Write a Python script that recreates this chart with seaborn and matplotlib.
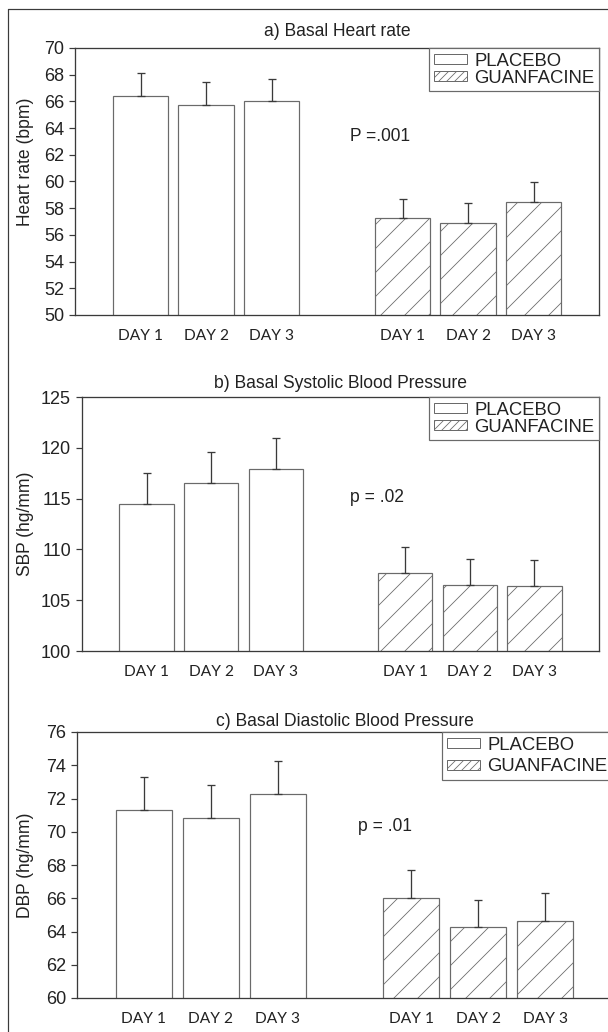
import pandas as pd
import matplotlib.pyplot as plt
import seaborn as sns
from matplotlib.patches import Patch
from matplotlib.lines import Line2D

# values (mean and upper error)
days = ['DAY 1', 'DAY 2', 'DAY 3']
groups = ['PLACEBO', 'GUANFACINE']

hr_placebo = [66.4, 65.7, 66.0]
hr_placebo_err = [1.7, 1.75, 1.7]
hr_guanfacine = [57.25, 56.9, 58.5]
hr_guanfacine_err = [1.45, 1.46, 1.47]

sbp_placebo = [114.5, 116.5, 117.9]
sbp_placebo_err = [3.05, 3.05, 3.05]
sbp_guanfacine = [107.65, 106.5, 106.4]
sbp_guanfacine_err = [2.6, 2.6, 2.6]

dbp_placebo = [71.3, 70.8, 72.25]
dbp_placebo_err = [1.97, 1.99, 1.99]
dbp_guanfacine = [66.0, 64.3, 64.65]
dbp_guanfacine_err = [1.7, 1.62, 1.69]

sns.set_style('white')
plt.rcParams['font.family'] = ['Liberation Sans', 'DejaVu Sans']
plt.rcParams['hatch.linewidth'] = 0.8

DARK = '#3a3a3a'
EDGE = '#6a6a6a'
TXT = '#222222'
FS = 17.5

W, H = 608, 1032
fig = plt.figure(figsize=(W / 72, H / 72), dpi=72)


def panel(rect, placebo, placebo_err, guan, guan_err, title, title_pad,
          ylabel, label_xy, ylim, yticks, ptext, pxy, legend_spacing):
    ax = fig.add_axes([rect[0] / W, 1 - rect[3] / H, (rect[2] - rect[0]) / W, (rect[3] - rect[1]) / H])

    df = pd.DataFrame({
        'slot': [f'{g} {d}' for g in groups for d in days],
        'value': placebo + guan,
        'group': [g for g in groups for _ in days],
    })
    order = [f'PLACEBO {d}' for d in days] + [' '] + [f'GUANFACINE {d}' for d in days]
    sns.barplot(data=df, x='slot', y='value', order=order, color='white',
                width=0.84, edgecolor=EDGE, linewidth=1.2, ax=ax)

    errs = dict(zip(df['slot'], placebo_err + guan_err))
    xs, tops, ups = [], [], []
    for p in ax.patches:
        xc = p.get_x() + p.get_width() / 2
        p.set_facecolor('white')
        p.set_edgecolor(EDGE)
        if xc > 3:
            p.set_hatch('/')
        xs.append(xc)
        tops.append(p.get_height())
        ups.append(errs[order[int(round(xc))]])
    ax.errorbar(xs, tops, yerr=[[0] * len(ups), ups], fmt='none', ecolor=DARK,
                elinewidth=1.3, capsize=4, capthick=1.3, zorder=1)

    ax.set_xlim(-1, 7)
    ax.set_ylim(*ylim)
    ax.set_yticks(yticks)
    ax.set_xticks(range(7))
    ax.set_xticklabels(days + [''] + days, fontfamily='Lato', fontsize=15.5, color=TXT)
    ax.tick_params(axis='x', length=0, pad=14)
    ax.tick_params(axis='y', left=True, direction='out', length=6, width=1.2,
                   color=DARK, labelsize=18, labelcolor=TXT, pad=5)
    for s in ax.spines.values():
        s.set_color(DARK)
        s.set_linewidth(1.3)

    ax.set_xlabel('')
    ax.set_ylabel(ylabel, fontsize=FS, color=TXT)
    ax.yaxis.set_label_coords(*label_xy)
    ax.set_title(title, fontsize=FS, color=TXT, pad=title_pad)
    ax.text(pxy[0], pxy[1], ptext, fontsize=FS, color=TXT, ha='left', va='center')

    handles = [Patch(facecolor='white', edgecolor=EDGE, label=groups[0]),
               Patch(facecolor='white', edgecolor=EDGE, hatch='///', label=groups[1])]
    leg = ax.legend(handles=handles, loc='upper right', bbox_to_anchor=(1, 1),
                    borderaxespad=0, fancybox=False, framealpha=1, edgecolor=EDGE,
                    fontsize=18.5, handlelength=1.8, handleheight=0.45,
                    handletextpad=0.4, labelspacing=legend_spacing, borderpad=0.25)
    leg.get_frame().set_linewidth(1.2)
    for t in leg.get_texts():
        t.set_color(TXT)
    return ax


panel((75, 48, 599, 315), hr_placebo, hr_placebo_err, hr_guanfacine, hr_guanfacine_err,
      'a) Basal Heart rate', 12, 'Heart rate (bpm)', (-0.078, 0.573),
      (50, 70), range(50, 71, 2), 'P =.001', (3.2, 63.4), 0.0)
panel((82, 397, 599, 651), sbp_placebo, sbp_placebo_err, sbp_guanfacine, sbp_guanfacine_err,
      'b) Basal Systolic Blood Pressure', 9, 'SBP (hg/mm)', (-0.093, 0.5),
      (100, 125), range(100, 126, 5), 'p = .02', (3.15, 115.1), 0.0)
panel((77, 732, 612, 998), dbp_placebo, dbp_placebo_err, dbp_guanfacine, dbp_guanfacine_err,
      'c) Basal Diastolic Blood Pressure', 6, 'DBP (hg/mm)', (-0.081, 0.5),
      (60, 76), range(60, 77, 2), 'p = .01', (3.2, 70.3), 0.25)

# outer frame (left and top edges visible in the original)
fig.add_artist(Line2D([8 / W, 8 / W], [0, 1 - 9 / H], transform=fig.transFigure, color=DARK, lw=1.2))
fig.add_artist(Line2D([8 / W, 1], [1 - 9 / H, 1 - 9 / H], transform=fig.transFigure, color=DARK, lw=1.2))

fig.savefig('out.png', dpi=72, facecolor='white')
